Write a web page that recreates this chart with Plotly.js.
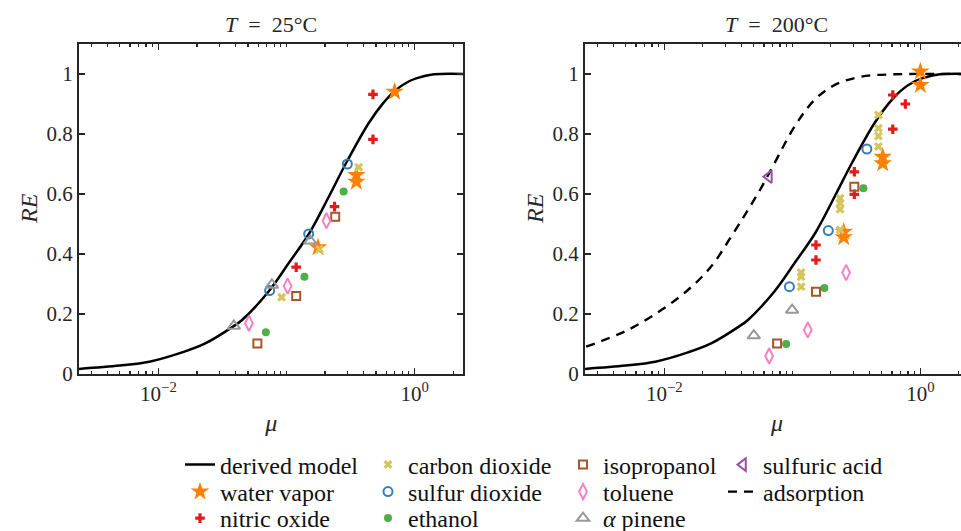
<!DOCTYPE html>
<html>
<head>
<meta charset="utf-8">
<script src="https://cdn.plot.ly/plotly-3.0.1.min.js"></script>
<style>
html, body { margin:0; padding:0; overflow:hidden; background:#fff; }
#chart { width:980px; height:531px; }
</style>
</head>
<body>
<div id="chart"></div>
<script>
// ---------- data ----------
// derived model curve (same in both panels)
const modelMu = [0.0024, 0.005, 0.0085, 0.0153, 0.0232, 0.0382, 0.045, 0.0724, 0.1038, 0.151, 0.2133, 0.2933, 0.4375, 0.5662, 0.6982, 0.8974, 1.122, 1.31, 1.585, 2.5];
const modelRE = [0.017, 0.028, 0.041, 0.072, 0.102, 0.158, 0.180, 0.275, 0.369, 0.470, 0.590, 0.705, 0.836, 0.902, 0.943, 0.975, 0.990, 0.997, 1.0, 1.0];
// adsorption curve (200 °C panel)
const adsMu = [0.00245, 0.0052, 0.00946, 0.01528, 0.0232, 0.0333, 0.045, 0.057, 0.0724, 0.1038, 0.1486, 0.2133, 0.344, 0.631, 2.5];
const adsRE = [0.091, 0.147, 0.213, 0.280, 0.358, 0.458, 0.547, 0.620, 0.702, 0.824, 0.913, 0.963, 0.991, 0.999, 1.0];

// T = 25 °C
const waterMu25 = [0.698, 0.351, 0.351, 0.176];
const waterRE25 = [0.941, 0.663, 0.641, 0.422];
const nitricMu25 = [0.473, 0.473, 0.237, 0.119];
const nitricRE25 = [0.932, 0.782, 0.558, 0.356];
const co2Mu25 = [0.366, 0.181, 0.0916];
const co2RE25 = [0.689, 0.416, 0.256];
const so2Mu25 = [0.2985, 0.149, 0.0738];
const so2RE25 = [0.700, 0.467, 0.278];
const ethanolMu25 = [0.279, 0.138, 0.069];
const ethanolRE25 = [0.608, 0.324, 0.139];
const isoMu25 = [0.240, 0.119, 0.0592];
const isoRE25 = [0.524, 0.260, 0.102];
const tolueneMu25 = [0.205, 0.102, 0.0509];
const tolueneRE25 = [0.511, 0.293, 0.169];
const pineneMu25 = [0.153, 0.0769, 0.0388];
const pineneRE25 = [0.444, 0.297, 0.160];

// T = 200 °C
const waterMu200 = [1.0, 1.0, 0.508, 0.508, 0.252, 0.252];
const waterRE200 = [1.008, 0.963, 0.724, 0.702, 0.474, 0.456];
const nitricMu200 = [0.609, 0.764, 0.609, 0.305, 0.305, 0.153, 0.153];
const nitricRE200 = [0.930, 0.900, 0.816, 0.674, 0.599, 0.430, 0.380];
const co2Mu200 = [0.47, 0.47, 0.47, 0.47, 0.236, 0.236, 0.236, 0.236, 0.117, 0.117, 0.117];
const co2RE200 = [0.863, 0.819, 0.793, 0.758, 0.586, 0.569, 0.549, 0.480, 0.338, 0.324, 0.291];
const so2Mu200 = [0.382, 0.191, 0.0949];
const so2RE200 = [0.750, 0.478, 0.291];
const ethanolMu200 = [0.359, 0.178, 0.0895];
const ethanolRE200 = [0.619, 0.287, 0.100];
const isoMu200 = [0.305, 0.153, 0.076];
const isoRE200 = [0.624, 0.274, 0.102];
const tolueneMu200 = [0.263, 0.132, 0.0659];
const tolueneRE200 = [0.338, 0.147, 0.060];
const pineneMu200 = [0.0996, 0.050];
const pineneRE200 = [0.213, 0.128];
const sulfuricMu200 = [0.0656];
const sulfuricRE200 = [0.658];

const yTickVals = [0, 0.2, 0.4, 0.6, 0.8, 1];
const yTickText = ['0', '0.2', '0.4', '0.6', '0.8', '1'];
const xTickVals = [0.01, 1];
const xTickText = ['10<sup>\u22122</sup>', '10<sup>0</sup>'];
const panelTitles = ['<i>T</i>\u2002=\u200225°C', '<i>T</i>\u2002=\u2002200°C'];
const xTitle = '<i>μ</i>';
const yTitle = '<i>RE</i>';

// ---------- styling ----------
const W = 980, H = 531;
const FONT = 'Liberation Serif, Times New Roman, serif';
const INK = '#262626';
const C = {
  water: '#ff8000', nitric: '#e41a1c', co2: '#d6c45c', so2: '#377eb8',
  ethanol: '#4daf4a', iso: '#a65628', toluene: '#f781bf', pinene: '#999999', sulfuric: '#984ea3'
};

const minorVals = [];
for (let e = -3; e <= 0; e++) for (let m = 2; m <= 9; m++) minorVals.push(m * Math.pow(10, e));
minorVals.push(0.1);

function series(name, mu, re, xa, ya, sym, color, size, open, legendKey) {
  return {
    type: 'scatter', mode: 'markers', name: name, x: mu, y: re, xaxis: xa, yaxis: ya,
    marker: {
      symbol: sym, size: size, color: color,
      line: { width: open ? 2 : 0, color: color }
    },
    showlegend: !!legendKey, legend: legendKey || 'legend', hoverinfo: 'x+y+name'
  };
}

const traces = [
  { type: 'scatter', mode: 'lines', name: 'derived model', x: modelMu, y: modelRE, xaxis: 'x', yaxis: 'y',
    line: { color: '#000', width: 2.5, shape: 'spline', smoothing: 1 }, legend: 'legend' },
  { type: 'scatter', mode: 'lines', name: 'derived model', x: modelMu, y: modelRE, xaxis: 'x2', yaxis: 'y2',
    line: { color: '#000', width: 2.5, shape: 'spline', smoothing: 1 }, showlegend: false },
  { type: 'scatter', mode: 'lines', name: 'adsorption', x: adsMu, y: adsRE, xaxis: 'x2', yaxis: 'y2',
    line: { color: '#000', width: 2.4, dash: '9px,7px', shape: 'spline', smoothing: 1 }, legend: 'legend11' },

  series('water vapor', waterMu25, waterRE25, 'x', 'y', 'star', C.water, 14, false, 'legend2'),
  series('nitric oxide', nitricMu25, nitricRE25, 'x', 'y', 'cross', C.nitric, 8, false, 'legend3'),
  series('carbon dioxide', co2Mu25, co2RE25, 'x', 'y', 'x', C.co2, 8, false, 'legend4'),
  series('sulfur dioxide', so2Mu25, so2RE25, 'x', 'y', 'circle-open', C.so2, 9, true, 'legend5'),
  series('ethanol', ethanolMu25, ethanolRE25, 'x', 'y', 'circle', C.ethanol, 8, false, 'legend6'),
  series('isopropanol', isoMu25, isoRE25, 'x', 'y', 'square-open', C.iso, 8, true, 'legend7'),
  series('toluene', tolueneMu25, tolueneRE25, 'x', 'y', 'diamond-tall-open', C.toluene, 11, true, 'legend8'),
  series('<i>α</i> pinene', pineneMu25, pineneRE25, 'x', 'y', 'triangle-up-open', C.pinene, 11, true, 'legend9'),

  series('water vapor', waterMu200, waterRE200, 'x2', 'y2', 'star', C.water, 14, false),
  series('nitric oxide', nitricMu200, nitricRE200, 'x2', 'y2', 'cross', C.nitric, 8, false),
  series('carbon dioxide', co2Mu200, co2RE200, 'x2', 'y2', 'x', C.co2, 8, false),
  series('sulfur dioxide', so2Mu200, so2RE200, 'x2', 'y2', 'circle-open', C.so2, 9, true),
  series('ethanol', ethanolMu200, ethanolRE200, 'x2', 'y2', 'circle', C.ethanol, 8, false),
  series('isopropanol', isoMu200, isoRE200, 'x2', 'y2', 'square-open', C.iso, 8, true),
  series('toluene', tolueneMu200, tolueneRE200, 'x2', 'y2', 'diamond-tall-open', C.toluene, 11, true),
  series('<i>α</i> pinene', pineneMu200, pineneRE200, 'x2', 'y2', 'triangle-up-open', C.pinene, 11, true),
  series('sulfuric acid', sulfuricMu200, sulfuricRE200, 'x2', 'y2', 'triangle-left-open', C.sulfuric, 11, true, 'legend10')
];

function xAxis(domain, anchor) {
  return {
    type: 'log', domain: domain, anchor: anchor, range: [-2.62, 0.38],
    tickmode: 'array', tickvals: xTickVals, ticktext: xTickText,
    ticks: 'inside', ticklen: 6, tickwidth: 1.5, tickcolor: INK,
    minor: { tickmode: 'array', tickvals: minorVals, ticks: 'inside', ticklen: 3, tickwidth: 1.2, tickcolor: INK },
    showline: true, linewidth: 2, linecolor: INK, mirror: 'ticks',
    showgrid: false, zeroline: false, automargin: false,
    tickfont: { family: FONT, size: 21, color: INK },
    title: { text: xTitle, font: { family: FONT, size: 24, color: INK }, standoff: 9 }
  };
}
function yAxis(anchor) {
  return {
    domain: [0, 1], anchor: anchor, range: [0, 1.1],
    tickmode: 'array', tickvals: yTickVals, ticktext: yTickText,
    ticks: 'inside', ticklen: 6, tickwidth: 1.5, tickcolor: INK,
    showline: true, linewidth: 2, linecolor: INK, mirror: 'ticks',
    showgrid: false, zeroline: false, automargin: false,
    tickfont: { family: FONT, size: 21, color: INK }
  };
}

function legendAt(px, py) {
  return {
    xref: 'container', yref: 'container', x: px / W, y: 1 - py / H,
    xanchor: 'left', yanchor: 'middle', orientation: 'v',
    bgcolor: 'rgba(0,0,0,0)', borderwidth: 0, itemwidth: 30,
    font: { family: FONT, size: 24, color: '#111' }
  };
}

const col = [180, 368, 563, 723];
const row = [465, 492, 518.5];

function yTitleAt(xpx) {
  return { text: yTitle, xref: 'paper', yref: 'paper', x: (xpx - 79) / 890, y: 0.5,
    xanchor: 'center', yanchor: 'middle', textangle: -90, showarrow: false,
    font: { family: FONT, size: 24, color: INK } };
}

const layout = {
  width: W, height: H,
  margin: { l: 79, r: 11, t: 44, b: 157, autoexpand: false },
  paper_bgcolor: '#fff', plot_bgcolor: '#fff',
  xaxis: xAxis([0, 0.4318], 'y'),
  yaxis: yAxis('x'),
  xaxis2: xAxis([0.5685, 1], 'y2'),
  yaxis2: yAxis('x2'),
  legend: legendAt(col[0], row[0]),
  legend2: legendAt(col[0], row[1]),
  legend3: legendAt(col[0], row[2]),
  legend4: legendAt(col[1], row[0]),
  legend5: legendAt(col[1], row[1]),
  legend6: legendAt(col[1], row[2]),
  legend7: legendAt(col[2], row[0]),
  legend8: legendAt(col[2], row[1]),
  legend9: legendAt(col[2], row[2]),
  legend10: legendAt(col[3], row[0]),
  legend11: legendAt(col[3], row[1]),
  annotations: [
    { text: panelTitles[0], xref: 'x domain', yref: 'paper', x: 0.5, y: 1 + 19 / 330,
      xanchor: 'center', yanchor: 'middle', showarrow: false,
      font: { family: FONT, size: 22, color: INK } },
    { text: panelTitles[1], xref: 'x2 domain', yref: 'paper', x: 0.5, y: 1 + 19 / 330,
      xanchor: 'center', yanchor: 'middle', showarrow: false,
      font: { family: FONT, size: 22, color: INK } },
    yTitleAt(29),
    yTitleAt(535)
  ],
  showlegend: true
};

Plotly.newPlot('chart', traces, layout, { staticPlot: true, responsive: false });
</script>
</body>
</html>
